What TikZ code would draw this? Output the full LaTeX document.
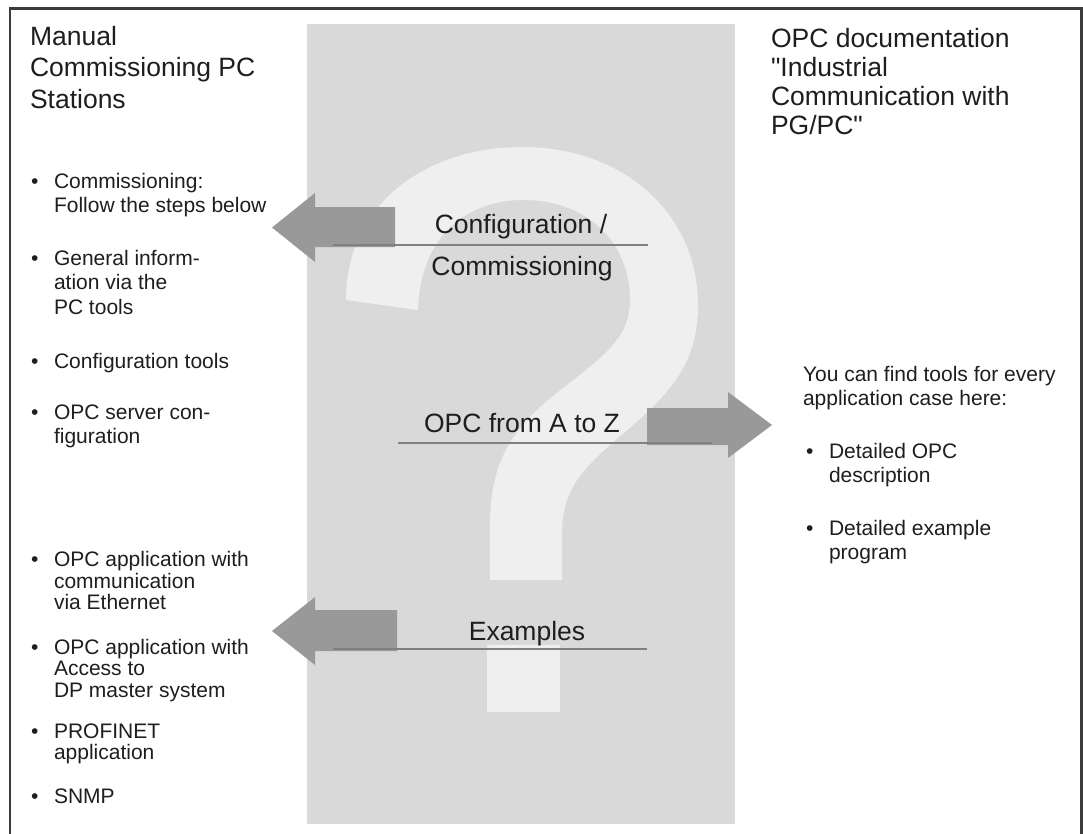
\documentclass[tikz,border=0pt]{standalone}
\usepackage{fontspec}
\setmainfont{Liberation Sans}
\definecolor{ink}{RGB}{30,30,30}
\definecolor{panel}{RGB}{217,217,217}
\definecolor{qmark}{RGB}{239,239,239}
\definecolor{arrowfill}{RGB}{153,153,153}
\definecolor{rulegray}{RGB}{128,128,128}
\definecolor{framegray}{RGB}{60,60,60}
\newcommand\firststrut[1]{\rule{0pt}{#1}}
\begin{document}
\begin{tikzpicture}[x=1pt,y=-1pt,
  every node/.style={inner sep=0pt, outer sep=0pt, text=ink},
  head/.style={anchor=north west, align=left, font=\fontsize{26.5}{31.5}\selectfont},
  itemtext/.style={anchor=north west, align=left, font=\fontsize{21}{24.5}\selectfont},
  itemtight/.style={anchor=north west, align=left, font=\fontsize{21}{21.5}\selectfont},
  dot/.style={anchor=base west, font=\fontsize{21}{24}\selectfont},
  topic/.style={anchor=base, font=\fontsize{26.5}{30}\selectfont},
  blockarrow/.style={fill=arrowfill},
  underline/.style={draw=rulegray, line width=2.5pt},
]
\useasboundingbox (0,0) rectangle (1083,833);
\fill[white] (0,0) rectangle (1083,833);

% outer frame
\draw[framegray, line width=2.6pt] (10,840) -- (10,8.5) -- (1081.5,8.5) -- (1081.5,840);

% central panel with the large question mark
\fill[panel] (307,24) rectangle (735,824);
\fill[qmark] (346,300) .. controls (346,205) and (425,147) .. (522,147)
  .. controls (625,147) and (698,215) .. (698,305)
  .. controls (698,365) and (668,395) .. (625,432)
  .. controls (580,470) and (562,490) .. (562,535)
  -- (562,580) -- (490,580) -- (490,525)
  .. controls (490,462) and (512,428) .. (558,392)
  .. controls (605,355) and (630,338) .. (630,300)
  .. controls (630,240) and (585,200) .. (524,200)
  .. controls (462,200) and (420,240) .. (418,310) -- cycle;
\fill[qmark] (487,645) rectangle (560,712);

% block arrows
\fill[blockarrow] (395,207) -- (315,207) -- (315,193) -- (272,227.5) -- (315,262) -- (315,247) -- (395,247) -- cycle;
\fill[blockarrow] (647,408) -- (728,408) -- (728,392) -- (772,425) -- (728,458) -- (728,445) -- (647,445) -- cycle;
\fill[blockarrow] (397,610) -- (315,610) -- (315,597) -- (272,631) -- (315,665) -- (315,651) -- (397,651) -- cycle;

% topic labels with their rules
\node[topic] (cfg) at (521,233) {Configuration /};
\node[topic] (comm) at (522,275) {Commissioning};
\draw[underline] (333,245) -- (648,245);
\node[topic] (atoz) at (522,432) {OPC from A to Z};
\draw[underline] (398,443) -- (712,443);
\node[topic] (examples) at (527,640) {Examples};
\draw[underline] (333,649) -- (647,649);

% left column
\node[head] (lefttitle) at (30,19) {\firststrut{26pt}Manual\\Commissioning PC\\Stations};

\node[dot] (b1) at (31,188) {\textbullet};
\node[itemtext] (i1) at (54,168) {\firststrut{20pt}Commissioning:\\Follow the steps below};
\node[dot] (b2) at (31,265) {\textbullet};
\node[itemtext] (i2) at (54,245) {\firststrut{20pt}General inform-\\ation via the\\PC tools};
\node[dot] (b3) at (31,368) {\textbullet};
\node[itemtext] (i3) at (54,348) {\firststrut{20pt}Configuration tools};
\node[dot] (b4) at (31,419) {\textbullet};
\node[itemtext] (i4) at (54,399) {\firststrut{20pt}OPC server con-\\figuration};

\node[dot] (b5) at (31,566.5) {\textbullet};
\node[itemtight] (i5) at (54,546.5) {\firststrut{20pt}OPC application with\\communication\\via Ethernet};
\node[dot] (b6) at (31,654) {\textbullet};
\node[itemtight] (i6) at (54,634) {\firststrut{20pt}OPC application with\\Access to\\DP master system};
\node[dot] (b7) at (31,738) {\textbullet};
\node[itemtight] (i7) at (54,718) {\firststrut{20pt}PROFINET\\application};
\node[dot] (b8) at (31,803) {\textbullet};
\node[itemtight] (i8) at (54,783) {\firststrut{20pt}SNMP};

% right column
\node[head, font=\fontsize{26.5}{29}\selectfont] (righttitle) at (771,21) {\firststrut{26pt}OPC documentation\\\textquotedbl Industrial\\Communication with\\PG/PC\textquotedbl};

\node[itemtext, font=\fontsize{21}{24}\selectfont] (findtools) at (803,361) {\firststrut{20pt}You can find tools for every\\application case here:};
\node[dot] (b9) at (806,458) {\textbullet};
\node[itemtext, font=\fontsize{21}{24}\selectfont] (r1) at (829,438) {\firststrut{20pt}Detailed OPC\\description};
\node[dot] (b10) at (806,535) {\textbullet};
\node[itemtext, font=\fontsize{21}{24}\selectfont] (r2) at (829,515) {\firststrut{20pt}Detailed example\\program};
\end{tikzpicture}
\end{document}
